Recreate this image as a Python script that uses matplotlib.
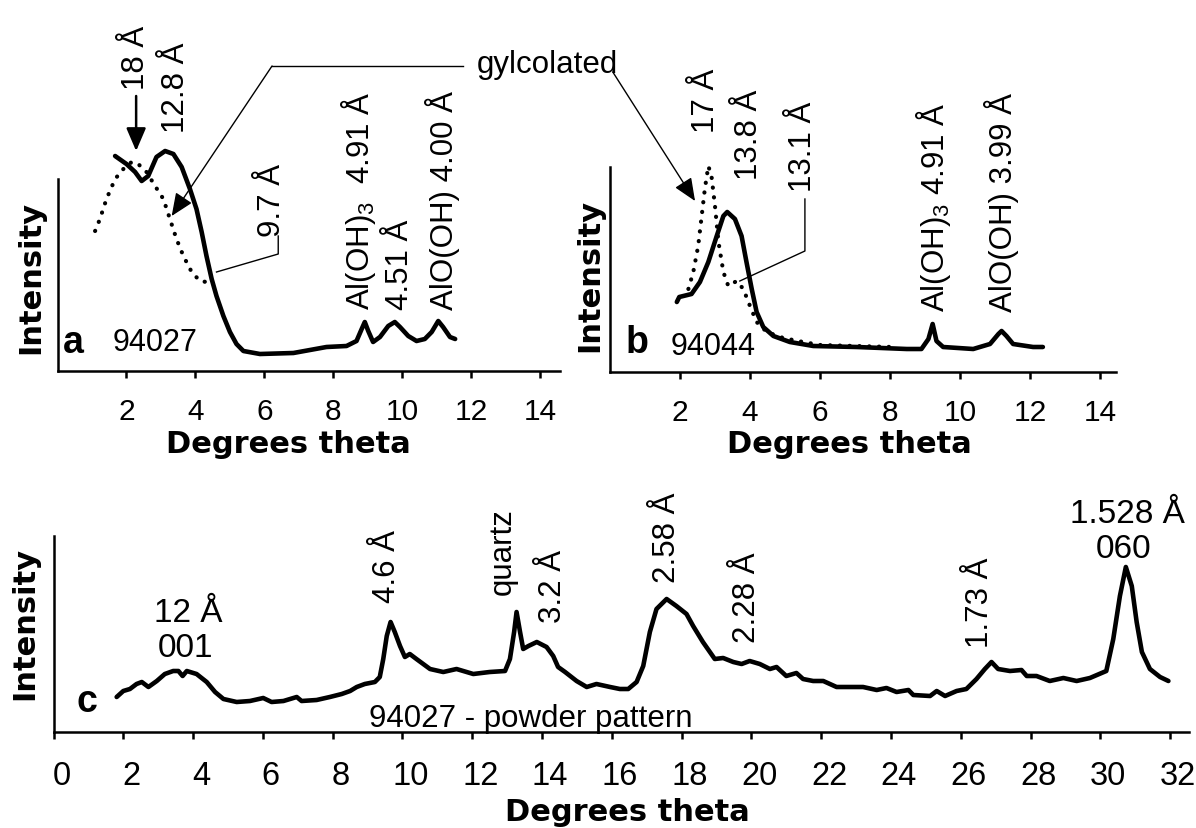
import numpy as np
import matplotlib.pyplot as plt
from matplotlib.transforms import ScaledTranslation

plt.rcParams['font.family'] = ['Liberation Sans', 'DejaVu Sans']
plt.rcParams['mathtext.fontset'] = 'custom'
plt.rcParams['mathtext.rm'] = 'Liberation Sans'
plt.rcParams['mathtext.it'] = 'Liberation Sans'

# panel a - sample 94027, oriented clay (solid) and glycolated (dotted)
a_x = [1.67, 2.0, 2.25, 2.44, 2.63, 2.87, 3.12, 3.36, 3.6, 3.84, 4.03, 4.18, 4.32, 4.47,
       4.61, 4.81, 5.0, 5.19, 5.39, 5.87, 6.84, 7.8, 8.38, 8.67, 8.82, 8.91, 9.01, 9.15,
       9.35, 9.59, 9.78, 9.93, 10.17, 10.41, 10.65, 10.85, 11.04, 11.18, 11.38, 11.53]
a_y = [215, 207, 199, 190, 195, 214, 220, 217, 204, 182, 162, 139, 115, 92,
       75, 55, 39, 27, 20, 17, 18, 24, 25, 30, 42, 49, 40, 29,
       34, 45, 49, 44, 35, 30, 32, 39, 50, 44, 34, 32]
a_gly_x = [1.09, 1.23, 1.42, 1.67, 1.91, 2.15, 2.34, 2.58, 2.83, 3.07, 3.26, 3.45, 3.65,
           3.89, 4.13, 4.32]
a_gly_y = [140, 152, 172, 192, 202, 209, 207, 199, 185, 172, 152, 132, 115, 99, 90, 89]

# panel b - sample 94044
b_x = [1.91, 1.98, 2.33, 2.57, 2.81, 3.05, 3.24, 3.35, 3.57, 3.76, 3.9, 4.05, 4.19, 4.38,
       4.67, 5.14, 5.81, 7.05, 8.48, 8.9, 9.1, 9.22, 9.33, 9.52, 10.38, 10.86, 11.1,
       11.19, 11.33, 11.52, 12.09, 12.37]
b_y = [70, 75, 78, 90, 110, 136, 156, 160, 153, 136, 110, 83, 60, 45,
       36, 30, 26, 25, 23, 23, 33, 48, 31, 25, 23, 28, 38,
       41, 36, 28, 25, 25]
b_gly_x = [2.24, 2.38, 2.52, 2.62, 2.71, 2.81, 2.9, 3.0, 3.1, 3.24, 3.38, 3.62, 3.81, 4.0,
           4.19, 4.48, 4.95, 5.52, 6.0, 7.0, 8.1]
b_gly_y = [83, 100, 126, 156, 183, 206, 196, 166, 130, 100, 86, 91, 83, 66,
           50, 40, 34, 30, 27, 26, 25]

# panel c - powder pattern of 94027
c_x = [1.81, 2.0, 2.19, 2.38, 2.53, 2.72, 2.96, 3.19, 3.43, 3.58, 3.7, 3.82, 4.1, 4.39,
       4.63, 4.87, 5.25, 5.63, 6.01, 6.25, 6.59, 6.97, 7.11, 7.54, 7.92, 8.26, 8.5, 8.69,
       8.92, 9.21, 9.35, 9.45, 9.55, 9.66, 9.78, 9.93, 10.07, 10.21, 10.4, 10.79, 11.17,
       11.55, 12.03, 12.5, 12.94, 13.08, 13.2, 13.27, 13.37, 13.46, 13.61, 13.85, 14.13,
       14.32, 14.46, 14.66, 14.99, 15.28, 15.56, 15.95, 16.23, 16.47, 16.71, 16.9, 17.09,
       17.28, 17.57, 17.85, 18.14, 18.33, 18.61, 18.95, 19.19, 19.48, 19.72, 19.95, 20.24,
       20.53, 20.72, 21.0, 21.29, 21.48, 21.77, 22.06, 22.44, 22.73, 23.2, 23.59, 23.87,
       24.16, 24.5, 24.64, 25.12, 25.31, 25.55, 25.88, 26.16, 26.45, 26.69, 26.88, 27.07,
       27.41, 27.74, 27.89, 28.17, 28.55, 28.94, 29.32, 29.7, 30.17, 30.37, 30.56, 30.73,
       30.9, 31.04, 31.19, 31.42, 31.71, 31.95]
c_y = [35, 41, 43, 48, 50, 45, 51, 58, 61, 61, 56, 61, 58, 50,
       40, 33, 30, 31, 34, 30, 31, 35, 31, 32, 35, 38, 41, 45,
       48, 50, 55, 73, 96, 110, 100, 86, 75, 78, 73, 63, 60,
       63, 58, 60, 61, 73, 100, 120, 100, 83, 86, 90, 85,
       76, 65, 60, 51, 45, 48, 45, 43, 43, 50, 66, 100,
       123, 133, 126, 118, 106, 90, 73, 74, 70, 68, 71, 68,
       63, 65, 56, 59, 53, 51, 51, 45, 45, 45, 42, 44,
       40, 42, 37, 36, 41, 36, 41, 43, 53, 63, 70, 63,
       61, 62, 56, 56, 51, 54, 51, 54, 61, 93, 136, 165,
       146, 110, 80, 63, 55, 51]

ticks_ab = [2, 4, 6, 8, 10, 12, 14]
ticks_c = list(range(0, 33, 2))

W, H = 1196, 829
fig = plt.figure(figsize=(W / 100, H / 100), dpi=100)


def add_ax(left, right, bottom, top):
    return fig.add_axes([left / W, 1 - bottom / H, (right - left) / W, (bottom - top) / H])


def style(ax, ticks, pad, size):
    for s in ['top', 'right']:
        ax.spines[s].set_visible(False)
    for s in ['left', 'bottom']:
        ax.spines[s].set_linewidth(1.8)
    ax.set_yticks([])
    ax.set_xticks(ticks)
    ax.tick_params(axis='x', direction='out', length=5, width=1.8, labelsize=size, pad=pad)
    ax.set_ylabel('Intensity', fontsize=22, fontweight='bold', family='DejaVu Sans')
    ax.set_xlabel('Degrees theta', fontsize=22, fontweight='bold', family='DejaVu Sans')
    ax.xaxis.label.set_va('center')
    ax.yaxis.label.set_va('center')


solid = dict(color='k', lw=3.3, clip_on=False, solid_capstyle='round', solid_joinstyle='round')
dots = dict(color='k', lw=3.0, clip_on=False, linestyle=(0, (0.05, 2.3)), dash_capstyle='round')
thin = dict(color='k', lw=1.0, clip_on=False)
rot = dict(rotation=90, ha='center', va='bottom', fontsize=22.5)
head = '-|>,head_length=0.7,head_width=0.3'

ax_a = add_ax(57.5, 560, 372, 180)
ax_b = add_ax(610, 1116, 373, 168)
ax_c = add_ax(53.5, 1189, 733, 537)

# ---- a
ax_a.set_xlim(0, 14.57)
ax_a.set_ylim(0, 192)
style(ax_a, ticks_ab, 13.5, 21.5)
ax_a.xaxis.set_label_coords(0.459, -0.38)
ax_a.yaxis.set_label_coords(-0.0525, 0.495)
ax_a.plot(a_gly_x, a_gly_y, **dots)
ax_a.plot(a_x, a_y, **solid)
ax_a.text(2.28, 282, '18 Å', **rot)
ax_a.annotate('', xy=(2.28, 220), xytext=(2.28, 275), annotation_clip=False,
              arrowprops=dict(arrowstyle=head, lw=1.8, color='k', shrinkA=0, shrinkB=0,
                              mutation_scale=20))
ax_a.text(3.43, 239, '12.8 Å', **rot)
ax_a.text(6.21, 135, '9.7 Å', **rot)
ax_a.plot([4.61, 6.4, 6.4], [99, 117, 135], **thin)
ax_a.text(8.72, 62, 'Al(OH)$_3$  4.91 Å', **rot)
ax_a.text(9.93, 62, '4.51 Å', **rot)
ax_a.text(11.17, 62, 'AlO(OH) 4.00 Å', **rot)
ax_a.text(0.46, 29, 'a', fontsize=27, fontweight='bold', ha='center', va='center')
ax_a.text(2.83, 29, '94027', fontsize=22, ha='center', va='center')

# glycolated label with leaders to both panels
ax_a.text(14.19, 307, 'gylcolated', fontsize=22.5, ha='center', va='center', clip_on=False)
ax_a.plot([11.75, 6.22], [305, 305], **thin)
ax_a.annotate('', xy=(3.31, 155), xytext=(6.22, 305), annotation_clip=False,
              arrowprops=dict(arrowstyle=head, lw=1.0, color='k', shrinkA=0, shrinkB=0,
                              mutation_scale=20))

# ---- b
ax_b.set_xlim(0, 14.46)
ax_b.set_ylim(0, 205)
style(ax_b, ticks_ab, 13.5, 21.5)
ax_b.xaxis.set_label_coords(0.474, -0.351)
ax_b.yaxis.set_label_coords(-0.0395, 0.478)
ax_b.plot(b_gly_x, b_gly_y, **dots)
ax_b.plot(b_x, b_y, **solid)
ax_b.annotate('', xy=(2.43, 171), xytext=(0.08, 300), annotation_clip=False,
              arrowprops=dict(arrowstyle=head, lw=1.0, color='k', shrinkA=0, shrinkB=0,
                              mutation_scale=20))
ax_b.text(2.74, 240, '17 Å', **rot)
ax_b.text(3.96, 193, '13.8 Å', **rot)
ax_b.text(5.51, 181, '13.1 Å', **rot)
ax_b.plot([5.57, 5.57, 3.71], [173, 121, 91], **thin)
ax_b.text(9.24, 61, 'Al(OH)$_3$ 4.91 Å', **rot)
ax_b.text(11.19, 61, 'AlO(OH) 3.99 Å', **rot)
ax_b.text(0.77, 30, 'b', fontsize=27, fontweight='bold', ha='center', va='center')
ax_b.text(2.94, 26, '94044', fontsize=22, ha='center', va='center')

# ---- c
ax_c.set_xlim(0, 32.54)
ax_c.set_ylim(0, 196)
style(ax_c, ticks_c, 15, 23.5)
ax_c.xaxis.set_label_coords(0.505, -0.408)
ax_c.yaxis.set_label_coords(-0.0251, 0.561)
for lbl in ax_c.get_xticklabels():
    lbl.set_transform(lbl.get_transform() + ScaledTranslation(0.08, 0, fig.dpi_scale_trans))
ax_c.plot(c_x, c_y, **solid)
ax_c.text(3.85, 111, '12 Å', fontsize=24, ha='center', va='baseline')
ax_c.text(3.77, 76, '001', fontsize=24, ha='center', va='baseline')
ax_c.text(9.55, 130, '4.6 Å', **rot)
ax_c.text(12.88, 138, 'quartz', **rot)
ax_c.text(14.31, 110, '3.2 Å', **rot)
ax_c.text(17.58, 150, '2.58 Å', **rot)
ax_c.text(19.87, 90, '2.28 Å', **rot)
ax_c.text(26.55, 85, '1.73 Å', **rot)
ax_c.text(30.79, 210, '1.528 Å', fontsize=24, ha='center', va='baseline', clip_on=False)
ax_c.text(30.67, 175, '060', fontsize=24, ha='center', va='baseline')
ax_c.text(0.95, 31, 'c', fontsize=27, fontweight='bold', ha='center', va='center')
ax_c.text(13.68, 6, '94027 - powder pattern', fontsize=22.5, ha='center', va='baseline')

fig.savefig('out.png', dpi=100)
